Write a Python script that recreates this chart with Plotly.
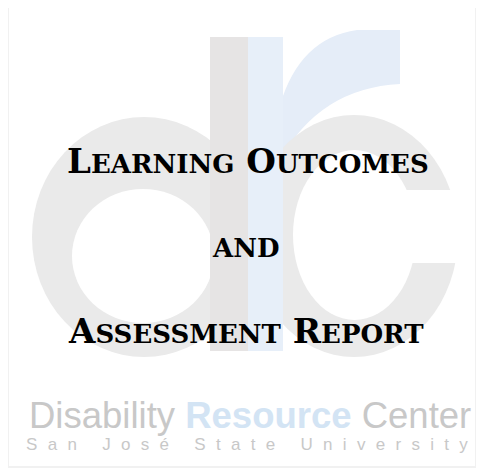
import plotly.graph_objects as go

# cover page text
title_lines = ["Learning Outcomes", "AND", "Assessment Report"]
title_x = [248, 246, 246]
title_y = [161, 248, 331]
footer_words = ["Disability", "Resource", "Center"]
footer_sub = "San José State University"

# logo colours
GRAY = "#eaeaea"
STEM_GRAY = "#e6e4e4"
BLUE = "#e7eff9"
ARM_BLUE = "#e5edf8"
TEXT_GRAY = "#c8c8c8"
TEXT_BLUE = "#d3e4f4"

W, H = 484, 472
PAD = 8  # the page body margin, so axis units line up with screen pixels
BIG, SMALL = 34, 26


def small_caps(s):
    # capitals at full size, lower case as smaller capitals
    out = []
    for ch in s:
        if ch.islower():
            out.append(f"<span style='font-size:{SMALL}px'>{ch.upper()}</span>")
        else:
            out.append(ch)
    return "".join(out)


fig = go.Figure()
fig.add_trace(go.Scatter(x=[PAD, W + PAD], y=[PAD, H + PAD], mode="markers",
                         marker=dict(opacity=0), hoverinfo="skip", showlegend=False))

shapes = [
    # d bowl
    dict(type="circle", x0=32, x1=256, y0=117, y1=357, fillcolor=GRAY, line_width=0),
    dict(type="circle", x0=72, x1=214, y0=189, y1=323, fillcolor="white", line_width=0),
    # r arm
    dict(type="path", path="M 280,105 Q 300,38 357,30 L 400,30 L 400,84 Q 320,88 280,160 Z",
         fillcolor=ARM_BLUE, line_width=0),
    # c ring
    dict(type="circle", x0=250, x1=458, y0=115, y1=357, fillcolor=GRAY, line_width=0),
    dict(type="circle", x0=293, x1=416, y0=150, y1=320, fillcolor="white", line_width=0),
    dict(type="rect", x0=405, x1=470, y0=190, y1=263, fillcolor="white", line_width=0),
    # stems
    dict(type="rect", x0=210, x1=248, y0=37, y1=351, fillcolor=STEM_GRAY, line_width=0),
    dict(type="rect", x0=248, x1=283, y0=37, y1=351, fillcolor=BLUE, line_width=0),
    # faint page border
    dict(type="rect", x0=8, x1=476, y0=5, y1=467, line=dict(color="#f1f1f1", width=2)),
]
for s in shapes:
    s.update(xref="x", yref="y", layer="below")
fig.update_layout(shapes=shapes)

serif = "DejaVu Serif"
for txt, xx, yy in zip(title_lines, title_x, title_y):
    if txt == "AND":
        text, size = txt, 26
    else:
        text, size = small_caps(txt), BIG
    fig.add_annotation(x=xx, y=yy, xref="x", yref="y", text=text, showarrow=False,
                       xanchor="center", yanchor="middle",
                       font=dict(family=serif, size=size, color="black", weight="bold"))

footer = (f"<span style='color:{TEXT_GRAY}'>{footer_words[0]} </span>"
          f"<span style='color:{TEXT_BLUE}'><b>{footer_words[1]}</b></span>"
          f"<span style='color:{TEXT_GRAY}'> {footer_words[2]}</span>")
fig.add_annotation(x=250, y=415, xref="x", yref="y", text=footer, showarrow=False,
                   xanchor="center", yanchor="middle",
                   font=dict(family="Liberation Sans", size=36.5, color=TEXT_GRAY))

spaced = f"<span style='letter-spacing:10.3px'>{footer_sub}</span>"
fig.add_annotation(x=252, y=444, xref="x", yref="y", text=spaced, showarrow=False,
                   xanchor="center", yanchor="middle",
                   font=dict(family="Liberation Sans", size=17, color=TEXT_GRAY))

fig.update_xaxes(range=[PAD, W + PAD], visible=False, fixedrange=True)
fig.update_yaxes(range=[H + PAD, PAD], visible=False, fixedrange=True)
fig.update_layout(width=W, height=H, margin=dict(l=0, r=0, t=0, b=0),
                  paper_bgcolor="white", plot_bgcolor="white", showlegend=False)

fig.write_html("out.html")
